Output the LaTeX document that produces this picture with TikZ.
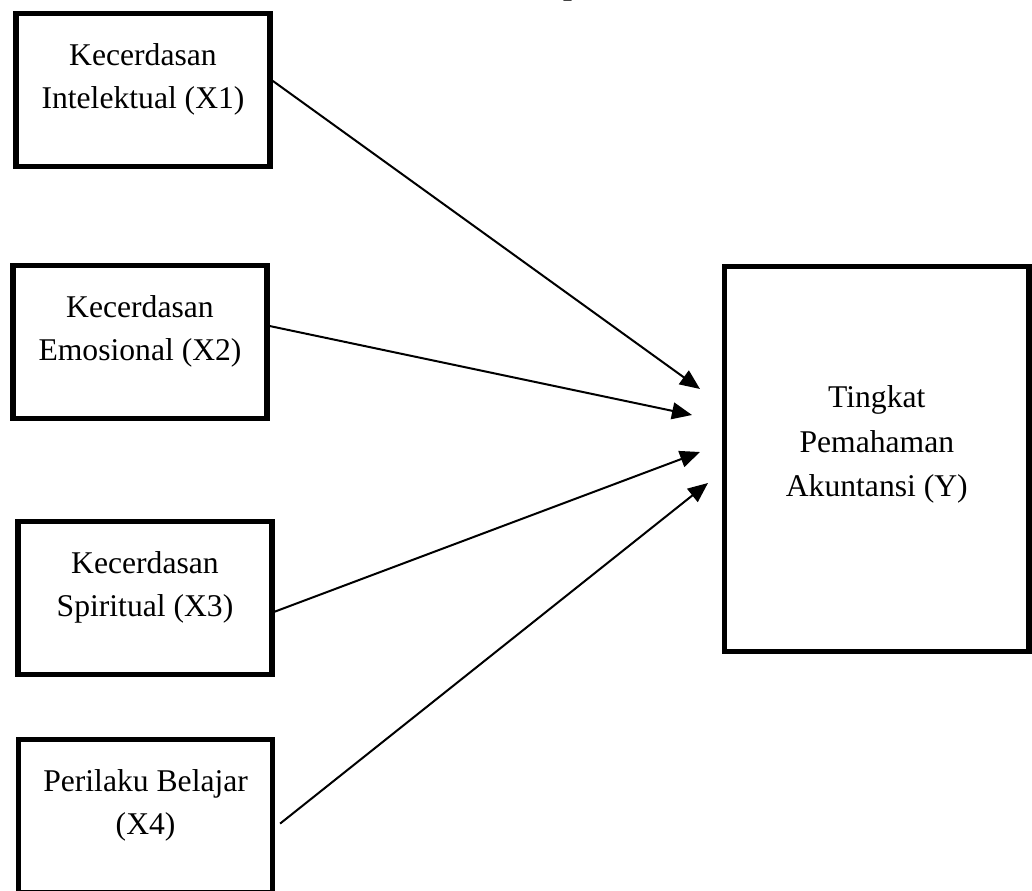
\documentclass[tikz,border=0pt]{standalone}
\usepackage{fontspec}
\setmainfont{Liberation Serif}
\usetikzlibrary{arrows.meta,positioning}

\begin{document}
\begin{tikzpicture}[auto,
    >={Triangle[length=0.5cm,width=0.42cm]},
    var/.style={draw, line width=0.14cm, minimum width=6.35cm, minimum height=3.82cm},
    txt/.style={align=center, inner sep=0pt, outer sep=0pt, font=\fontsize{22.5}{30.6}\selectfont}]
    \useasboundingbox (0,0) rectangle (25.8,22.25);
    \node[font=\fontsize{22.5}{30.6}\selectfont\bfseries, anchor=base, inner sep=0pt] (judul) at (14.3,22.38) {p};

    \node[var] (X1) at (3.575,20.0) {};
    \node[var] (X2) at (3.5,13.7) {};
    \node[var] (X3) at (3.625,7.3) {};
    \node[var] (X4) at (3.64,1.85) {};
    \node[var, minimum width=7.61cm, minimum height=9.625cm] (Y) at (21.92,10.775) {};

    \node[txt, below=0.81cm of X1.north] (X1t) {Kecerdasan\\Intelektual (X1)};
    \node[txt, below=0.81cm of X2.north] (X2t) {Kecerdasan\\Emosional (X2)};
    \node[txt, below=0.81cm of X3.north] (X3t) {Kecerdasan\\Spiritual (X3)};
    \node[txt, below=0.81cm of X4.north] (X4t) {Perilaku Belajar\\(X4)};
    \node[txt, font=\fontsize{22.5}{31.7}\selectfont, below=3.05cm of Y.north] (Yt) {Tingkat\\Pemahaman\\Akuntansi (Y)};

    \coordinate (t1) at (17.5,12.525);
    \coordinate (t2) at (17.3,11.875);
    \coordinate (t3) at (17.5,10.95);
    \coordinate (t4) at (17.7,10.175);
    \draw[->, line width=0.05cm] (X1.4) to (t1);
    \draw[->, line width=0.05cm] (X2.7) to (t2);
    \draw[->, line width=0.05cm] (X3.-6) to (t3);
    \draw[->, line width=0.05cm, shorten <=0.15cm] (X4.-5) to (t4);

\end{tikzpicture}
\end{document}
